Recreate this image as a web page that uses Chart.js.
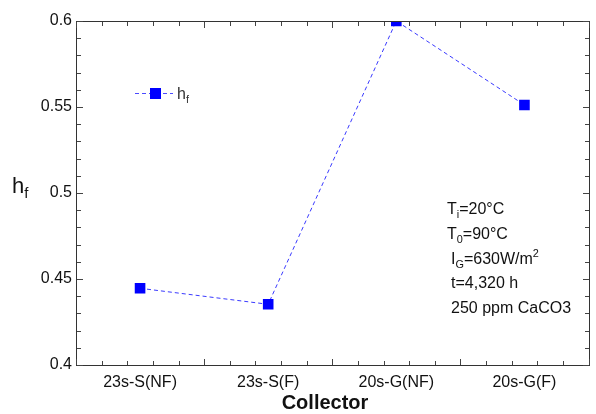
<!DOCTYPE html>
<html>
<head>
<meta charset="utf-8">
<script src="https://cdn.jsdelivr.net/npm/chart.js@4.4.1/dist/chart.umd.min.js"></script>
<style>
  html, body { margin: 0; padding: 0; background: #fff; }
  #wrap { width: 596px; height: 414px; }
</style>
</head>
<body>
<div id="wrap"><canvas id="hf_chart"></canvas></div>
<script>
let collectors = ["23s-S(NF)", "23s-S(F)", "20s-G(NF)", "20s-G(F)"];
let hfValues = [0.4446, 0.4353, 0.6, 0.5512];
let yTicks = [0.4, 0.45, 0.5, 0.55, 0.6];
// text parts: [text, "sub" | "sup" | ""]
let notes = [
  [["T", ""], ["i", "sub"], ["=20°C", ""]],
  [["T", ""], ["0", "sub"], ["=90°C", ""]],
  [["I", ""], ["G", "sub"], ["=630W/m", ""], ["2", "sup"]],
  [["t=4,320 h", ""]],
  [["250 ppm CaCO3", ""]],
];

const FONT = "'Liberation Sans', Arial, sans-serif";
const BLUE = "#0000ff";

function drawRich(c, parts, x, y, size) {
  parts.forEach(([txt, kind]) => {
    let s = kind ? size * 0.68 : size;
    let dy = kind === "sub" ? size * 0.22 : kind === "sup" ? -size * 0.42 : 0;
    c.font = s + "px " + FONT;
    c.fillText(txt, x, y + dy);
    x += c.measureText(txt).width;
  });
}

const framePlugin = {
  id: "frame",
  afterDraw(chart) {
    const c = chart.ctx;
    const a = chart.chartArea;
    const xs = chart.scales.x, ys = chart.scales.y;
    const L = Math.round(a.left), R = Math.round(a.right);
    const T = Math.round(a.top), B = Math.round(a.bottom);
    c.save();
    c.fillStyle = "#333";
    // frame
    c.fillRect(L, T, R - L + 1, 1);
    c.fillRect(L, B, R - L + 1, 1);
    c.fillRect(L, T, 1, B - T + 1);
    c.fillRect(R, T, 1, B - T + 1);
    // x ticks, inward, bottom and top
    c.fillStyle = "#444";
    for (let i = 0; i <= 20; i++) {
      let px = Math.round(xs.getPixelForValue(i * 0.2));
      let len = i % 5 === 0 ? 6 : 4;
      c.fillRect(px, B - len, 1, len);
      c.fillRect(px, T + 1, 1, len);
    }
    // y ticks, inward, left and right
    for (let i = 0; i <= 20; i++) {
      let py = Math.round(ys.getPixelForValue(0.4 + i * 0.01));
      let len = i % 5 === 0 ? 6 : 4;
      c.fillRect(L + 1, py, len, 1);
      c.fillRect(R - len, py, len, 1);
    }

    // legend
    c.strokeStyle = "#4a4aff";
    c.lineWidth = 1;
    c.setLineDash([4, 3]);
    c.beginPath();
    c.moveTo(135, 93.5); c.lineTo(173, 93.5);
    c.stroke();
    c.setLineDash([]);
    c.fillStyle = BLUE;
    c.fillRect(150, 88, 11, 11);
    c.fillStyle = "#333";
    c.textBaseline = "alphabetic";
    drawRich(c, [["h", ""], ["f", "sub"]], 177, 99, 16);

    // y title
    c.fillStyle = "#111";
    drawRich(c, [["h", ""], ["f", "sub"]], 12, 193, 22);

    // x title
    c.font = "bold 20px " + FONT;
    c.textAlign = "center";
    c.fillText("Collector", 325, 409);
    c.textAlign = "left";

    // notes
    c.fillStyle = "#111";
    const nx = [447, 447, 451, 451, 451];
    const ny = [214, 239, 264, 288, 313];
    notes.forEach((parts, i) => drawRich(c, parts, nx[i], ny[i], 16));
    c.restore();
  }
};

const ctx = document.getElementById("hf_chart").getContext("2d");

new Chart(ctx, {
  type: "line",
  data: {
    datasets: [
      {
        label: "hf",
        data: hfValues.map((v, i) => ({ x: i + 0.5, y: v })),
        borderColor: "#3a3aff",
        borderWidth: 1,
        borderDash: [4, 3],
        pointStyle: "rect",
        pointRadius: 7.5,
        pointBackgroundColor: BLUE,
        pointBorderColor: BLUE,
        pointBorderWidth: 0,
        fill: false,
        tension: 0,
      },
    ],
  },
  options: {
    responsive: true,
    maintainAspectRatio: false,
    animation: false,
    layout: { padding: { top: 21, right: 2, left: 0, bottom: 0 } },
    plugins: { legend: { display: false }, tooltip: { enabled: false } },
    scales: {
      x: {
        type: "linear",
        min: 0,
        max: 4,
        afterBuildTicks: (s) => { s.ticks = collectors.map((c, i) => ({ value: i + 0.5 })); },
        afterFit: (s) => { s.height = 49; },
        ticks: {
          callback: (v) => collectors[Math.floor(v)],
          font: { family: FONT, size: 16 },
          color: "#111",
          padding: 8,
          maxRotation: 0,
          minRotation: 0,
          autoSkip: false,
        },
        grid: { display: false, drawTicks: false },
        border: { display: false },
      },
      y: {
        min: 0.4,
        max: 0.6,
        afterBuildTicks: (s) => { s.ticks = yTicks.map((v) => ({ value: v })); },
        afterFit: (s) => { s.width = 76; },
        ticks: {
          callback: (v) => String(+v.toFixed(2)),
          font: { family: FONT, size: 16 },
          color: "#111",
          padding: 4,
        },
        grid: { display: false, drawTicks: false },
        border: { display: false },
      },
    },
  },
  plugins: [framePlugin],
});
</script>
</body>
</html>
